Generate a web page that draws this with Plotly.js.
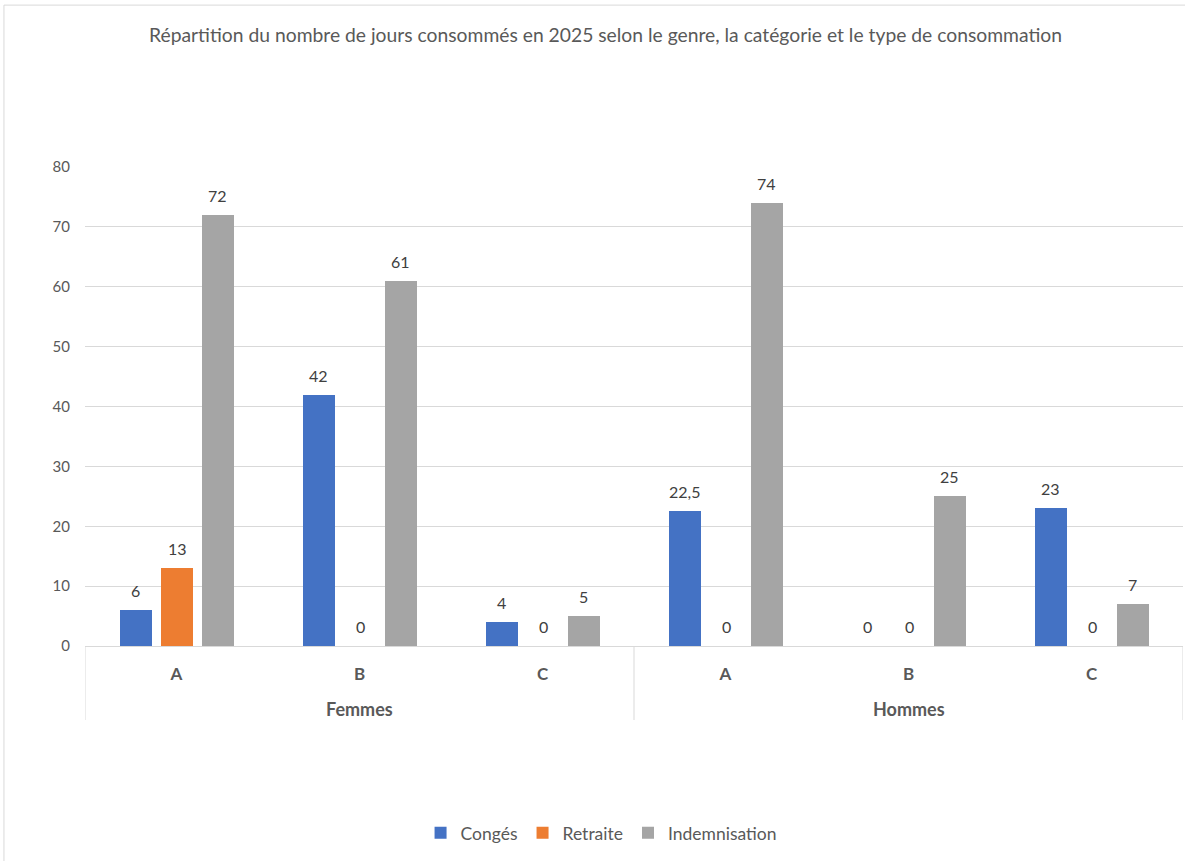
<!DOCTYPE html>
<html>
<head>
<meta charset="utf-8">
<script src="https://cdn.plot.ly/plotly-3.0.1.min.js"></script>
<style>html,body{margin:0;padding:0;background:#fff;}#chart{width:1185px;height:861px;}</style>
</head>
<body>
<div id="chart"></div>
<script>
const genres = ["Femmes", "Hommes"];
const categories = ["A", "B", "C", "A", "B", "C"];
const series = ["Congés", "Retraite", "Indemnisation"];
const conges = [6, 42, 4, 22.5, 0, 23];
const retraite = [13, 0, 0, 0, 0, 0];
const indemnisation = [72, 61, 5, 74, 25, 7];
const yTicks = [0, 10, 20, 30, 40, 50, 60, 70, 80];

const colors = ["#4472C4", "#ED7D31", "#A5A5A5"];
const values = [conges, retraite, indemnisation];
const barW = 0.175;
const offsets = [-0.309, -0.0847, 0.139];
const FONT = "Lato, 'Open Sans', sans-serif";
const xIdx = categories.map((c, i) => i);

const traces = series.map((name, s) => ({
  type: "bar",
  name: name,
  x: xIdx,
  y: values[s],
  width: barW,
  offset: offsets[s],
  marker: {color: colors[s], line: {width: 0}},
  hoverinfo: "skip"
}));

const annotations = [];
values.forEach((vals, s) => {
  vals.forEach((v, i) => {
    annotations.push({
      x: i + offsets[s] + barW / 2, y: v, xref: "x", yref: "y",
      text: String(v).replace(".", ","), showarrow: false,
      yanchor: "bottom", yshift: 8,
      font: {family: FONT, size: 16, color: "#404040"}
    });
  });
});
const perGroup = categories.length / genres.length;
genres.forEach((g, k) => {
  annotations.push({
    x: k * perGroup + (perGroup - 1) / 2, y: -0.1315, xref: "x", yref: "paper",
    text: "<b>" + g + "</b>", showarrow: false, yanchor: "middle",
    font: {family: FONT, size: 18, color: "#595959"}
  });
});

const shapes = [];
for (let k = 0; k <= genres.length; k++) {
  shapes.push({type: "line", xref: "x", yref: "paper",
    x0: k * perGroup - 0.5, x1: k * perGroup - 0.5, y0: 0, y1: -0.1545,
    line: {color: "#D9D9D9", width: 1}});
}
shapes.push({type: "rect", xref: "paper", yref: "paper",
  x0: -0.0738, x1: 1.05, y0: -0.6, y1: 1.338,
  line: {color: "#D9D9D9", width: 1}, fillcolor: "rgba(0,0,0,0)", layer: "below"});

const layout = {
  width: 1185, height: 861,
  margin: {l: 85, r: 2, t: 167, b: 215},
  paper_bgcolor: "#fff", plot_bgcolor: "#fff",
  title: {text: "Répartition du nombre de jours consommés en 2025 selon le genre, la catégorie et le type de consommation",
    x: 0.511, xref: "container", xanchor: "center", y: 1 - 35 / 861, yref: "container", yanchor: "middle",
    font: {family: FONT, size: 19.3, color: "#595959"}},
  xaxis: {
    range: [-0.5, 5.5], tickmode: "array", tickvals: xIdx,
    ticktext: categories.map(c => "<b>" + c + "</b>"),
    showgrid: false, zeroline: false, showline: true, linecolor: "#D9D9D9", linewidth: 1,
    ticks: "", ticklabelstandoff: 13,
    tickfont: {family: FONT, size: 17, color: "#595959"}, fixedrange: true
  },
  yaxis: {
    range: [0, 80], tickmode: "array", tickvals: yTicks,
    showgrid: true, gridcolor: "#D9D9D9", gridwidth: 1, zeroline: false, showline: false,
    ticks: "", ticklabelstandoff: 14,
    tickfont: {family: FONT, size: 15, color: "#595959"}, fixedrange: true
  },
  showlegend: true,
  legend: {orientation: "h", x: 0.47, xanchor: "center", y: -0.39, yanchor: "middle",
    font: {family: FONT, size: 17.5, color: "#595959"}, itemwidth: 30, traceorder: "normal"},
  annotations: annotations,
  shapes: shapes,
  bargap: 0
};

Plotly.newPlot("chart", traces, layout, {displayModeBar: false, staticPlot: true});
</script>
</body>
</html>
